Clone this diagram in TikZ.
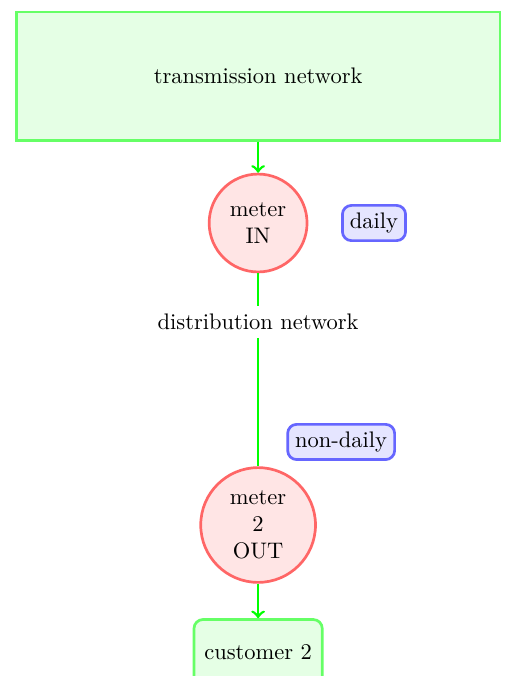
\documentclass[tikz,border=0pt]{standalone}
\usetikzlibrary{positioning}

\tikzset{
	netbox/.style={rectangle, draw=green!60, fill=green!10, very thick},
	meter/.style={circle, draw=red!60, fill=red!10, very thick, align=center, inner sep=0pt},
	rate/.style={rectangle, rounded corners, draw=blue!60, fill=blue!10, very thick},
	flow/.style={green, very thick},
}

\begin{document}
\begin{tikzpicture}[x=1pt,y=1pt]

	% ---- frame

	\useasboundingbox (0,0) rectangle (224.4,-300.4);

	% ---- networks

	\node[netbox, minimum width=215pt, minimum height=57pt] (trans) at (114.7,-33.8) {transmission network};
	\node (dist) at (114.7,-143.1) {distribution network};

	% ---- meters

	\node[meter, minimum size=43.5pt] (mIn) at (114.7,-99.1) {meter\\IN};
	\node[meter, minimum size=51pt] (mOut) at (114.7,-233.3) {meter\\2\\OUT};

	% ---- reading rates

	\node[rate] (daily) at (166.2,-99.1) {daily};
	\node[rate] (nondaily) at (151.6,-196.4) {non-daily};

	% ---- customer

	\node[netbox, rounded corners, minimum width=57pt, minimum height=29.3pt, anchor=north] (cust) at (114.7,-274.7) {customer 2};

	% ---- connectors

	\draw[flow, ->] (trans) -- (mIn);
	\draw[flow] (mIn) -- (dist);
	\draw[flow] (dist) -- (mOut);
	\draw[flow, ->] (mOut) -- (cust);

\end{tikzpicture}
\end{document}
